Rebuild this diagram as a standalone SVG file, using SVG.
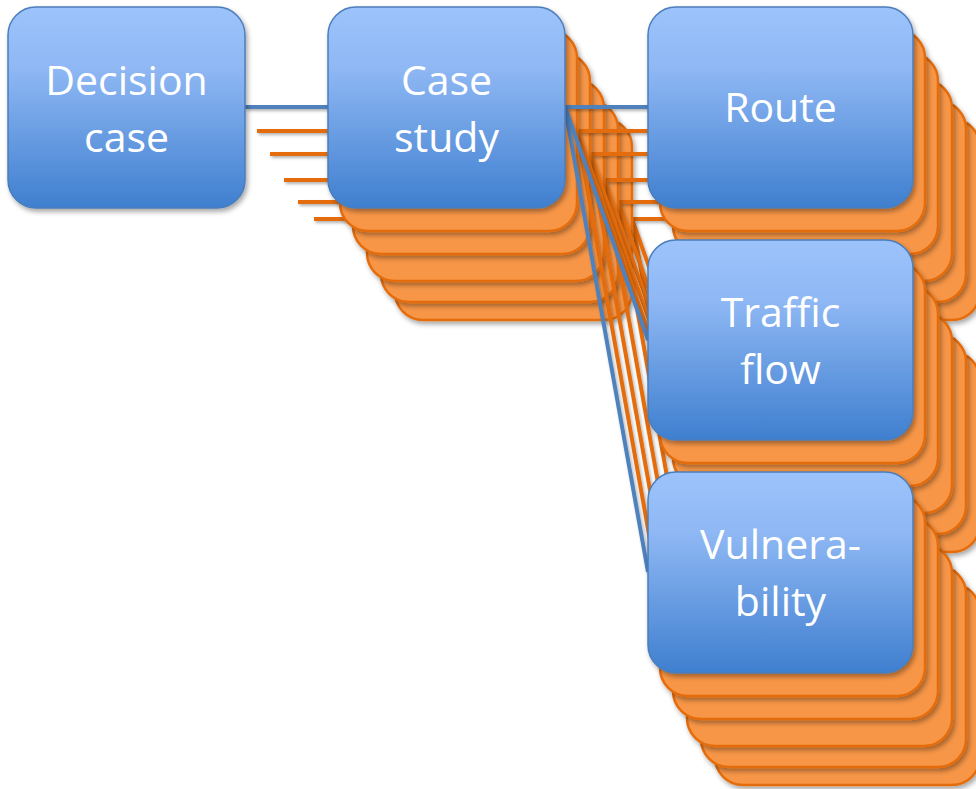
<svg xmlns="http://www.w3.org/2000/svg" width="976" height="789" viewBox="0 0 976 789">
<defs>
<linearGradient id="blueGrad" x1="0" y1="0" x2="0" y2="1">
<stop offset="0" stop-color="#9cc3fb"/>
<stop offset="0.3" stop-color="#8fb8f4"/>
<stop offset="1" stop-color="#3f7fcf"/>
</linearGradient>
<filter id="shadow" x="-10%" y="-10%" width="125%" height="125%">
<feDropShadow dx="2" dy="3" stdDeviation="2.5" flood-color="#000" flood-opacity="0.35"/>
</filter>
<filter id="lshadow" filterUnits="userSpaceOnUse" x="0" y="0" width="976" height="789">
<feDropShadow dx="1.5" dy="2" stdDeviation="1.5" flood-color="#000" flood-opacity="0.3"/>
</filter>
</defs>
<style>
.blue{fill:url(#blueGrad);stroke:#4a7ebb;stroke-width:1.5;filter:url(#shadow)}
.orange{fill:#f79646;stroke:#e46c0a;stroke-width:2.5;filter:url(#shadow)}
.connectors{filter:url(#lshadow)}
.cb{stroke:#4f81bd;stroke-width:4;fill:none}
.co{stroke:#e46c0a;stroke-width:4;fill:none}
.lbl{font-family:"Open Sans","Liberation Sans",sans-serif;font-size:41px;fill:#fff;text-anchor:middle}
</style>
<rect width="976" height="789" fill="#fff"/>

<!-- layer 5 -->
<g id="layer5">
<g id="connectors5" class="connectors">
<line class="co" x1="314" y1="219" x2="395" y2="219"/>
<line class="co" x1="632" y1="219" x2="715" y2="219"/>
<line class="co" x1="632" y1="219" x2="715" y2="452"/>
<line class="co" x1="632" y1="219" x2="715" y2="684"/>
</g>
<g id="case-study-copy5"><rect class="orange" x="395" y="119" width="237" height="201" rx="28"/></g>
<g id="route-copy5"><rect class="orange" x="715" y="119" width="265" height="201" rx="28"/></g>
<g id="traffic-copy5"><rect class="orange" x="715" y="352" width="265" height="200" rx="28"/></g>
<g id="vuln-copy5"><rect class="orange" x="715" y="584" width="265" height="201" rx="28"/></g>
</g>

<!-- layer 4 -->
<g id="layer4">
<g id="connectors4" class="connectors">
<line class="co" x1="298" y1="202" x2="381" y2="202"/>
<line class="co" x1="618" y1="202" x2="701" y2="202"/>
<line class="co" x1="618" y1="202" x2="701" y2="435"/>
<line class="co" x1="618" y1="202" x2="701" y2="667"/>
</g>
<g id="case-study-copy4"><rect class="orange" x="381" y="101" width="237" height="201" rx="28"/></g>
<g id="route-copy4"><rect class="orange" x="701" y="101" width="265" height="201" rx="28"/></g>
<g id="traffic-copy4"><rect class="orange" x="701" y="334" width="265" height="200" rx="28"/></g>
<g id="vuln-copy4"><rect class="orange" x="701" y="566" width="265" height="201" rx="28"/></g>
</g>

<!-- layer 3 -->
<g id="layer3">
<g id="connectors3" class="connectors">
<line class="co" x1="284" y1="180" x2="367" y2="180"/>
<line class="co" x1="604" y1="180" x2="687" y2="180"/>
<line class="co" x1="604" y1="180" x2="687" y2="413"/>
<line class="co" x1="604" y1="180" x2="687" y2="645"/>
</g>
<g id="case-study-copy3"><rect class="orange" x="367" y="80" width="237" height="201" rx="28"/></g>
<g id="route-copy3"><rect class="orange" x="687" y="80" width="265" height="201" rx="28"/></g>
<g id="traffic-copy3"><rect class="orange" x="687" y="313" width="265" height="200" rx="28"/></g>
<g id="vuln-copy3"><rect class="orange" x="687" y="545" width="265" height="201" rx="28"/></g>
</g>

<!-- layer 2 -->
<g id="layer2">
<g id="connectors2" class="connectors">
<line class="co" x1="270" y1="154" x2="353" y2="154"/>
<line class="co" x1="590" y1="154" x2="673" y2="154"/>
<line class="co" x1="590" y1="154" x2="673" y2="387"/>
<line class="co" x1="590" y1="154" x2="673" y2="619"/>
</g>
<g id="case-study-copy2"><rect class="orange" x="353" y="53" width="237" height="201" rx="28"/></g>
<g id="route-copy2"><rect class="orange" x="673" y="53" width="265" height="201" rx="28"/></g>
<g id="traffic-copy2"><rect class="orange" x="673" y="286" width="265" height="200" rx="28"/></g>
<g id="vuln-copy2"><rect class="orange" x="673" y="518" width="265" height="201" rx="28"/></g>
</g>

<!-- layer 1 -->
<g id="layer1">
<g id="connectors1" class="connectors">
<line class="co" x1="257" y1="131" x2="340" y2="131"/>
<line class="co" x1="577" y1="131" x2="660" y2="131"/>
<line class="co" x1="577" y1="131" x2="660" y2="364"/>
<line class="co" x1="577" y1="131" x2="660" y2="596"/>
</g>
<g id="case-study-copy1"><rect class="orange" x="340" y="30" width="237" height="201" rx="28"/></g>
<g id="route-copy1"><rect class="orange" x="660" y="30" width="265" height="201" rx="28"/></g>
<g id="traffic-copy1"><rect class="orange" x="660" y="263" width="265" height="200" rx="28"/></g>
<g id="vuln-copy1"><rect class="orange" x="660" y="495" width="265" height="201" rx="28"/></g>
</g>

<!-- front layer -->
<g id="connectors" class="connectors">
<line class="cb" x1="245" y1="107" x2="328" y2="107"/>
<line class="cb" x1="565" y1="107" x2="648" y2="107"/>
<line class="cb" x1="565" y1="107" x2="648" y2="340"/>
<line class="cb" x1="565" y1="107" x2="648" y2="572"/>
</g>
<g id="decision-case">
<rect class="blue" x="8" y="7" width="237" height="201" rx="28"/>
<text class="lbl" x="126.5" y="95">Decision</text>
<text class="lbl" x="126.5" y="152">case</text>
</g>
<g id="case-study">
<rect class="blue" x="328" y="7" width="237" height="201" rx="28"/>
<text class="lbl" x="446.5" y="95">Case</text>
<text class="lbl" x="446.5" y="152">study</text>
</g>
<g id="route">
<rect class="blue" x="648" y="7" width="265" height="201" rx="28"/>
<text class="lbl" x="780.5" y="122">Route</text>
</g>
<g id="traffic-flow">
<rect class="blue" x="648" y="240" width="265" height="200" rx="28"/>
<text class="lbl" x="780.5" y="327">Traffic</text>
<text class="lbl" x="780.5" y="384">flow</text>
</g>
<g id="vulnerability">
<rect class="blue" x="648" y="472" width="265" height="201" rx="28"/>
<text class="lbl" x="780.5" y="559">Vulnera-</text>
<text class="lbl" x="780.5" y="616">bility</text>
</g>
</svg>
